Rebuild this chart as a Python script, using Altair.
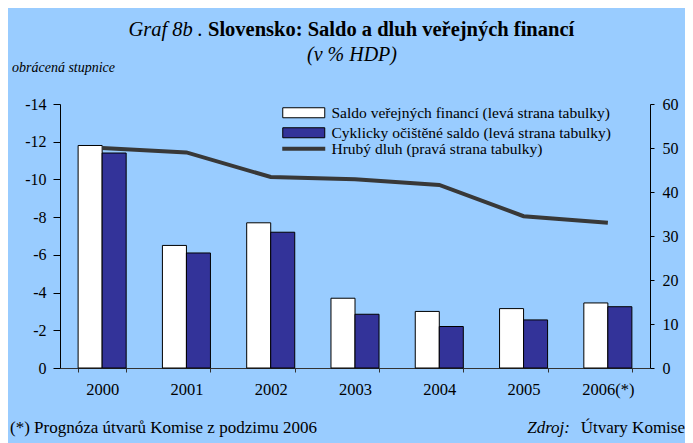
import altair as alt
import pandas as pd

years = ["2000", "2001", "2002", "2003", "2004", "2005", "2006(*)"]
saldo = [-11.8, -6.5, -7.7, -3.7, -3.0, -3.15, -3.45]
cyklicke = [-11.4, -6.1, -7.2, -2.85, -2.2, -2.55, -3.25]
dluh = [50.0, 49.0, 43.4, 42.9, 41.6, 34.5, 33.0]

s1 = "Saldo veřejných financí (levá strana tabulky)"
s2 = "Cyklicky očištěné saldo (levá strana tabulky)"
s3 = "Hrubý dluh (pravá strana tabulky)"

bar_df = pd.DataFrame({
    "rok": years * 2,
    "serie": [s1] * len(years) + [s2] * len(years),
    "hodnota": saldo + cyklicke,
})
line_df = pd.DataFrame({"rok": years, "serie": [s3] * len(years), "dluh": dluh})

FONT = "Liberation Serif"
W, H = 590, 264

xenc = alt.X("rok:N", sort=years, title=None,
             scale=alt.Scale(paddingInner=0.43, paddingOuter=0.215),
             axis=alt.Axis(labelAngle=0, labelFontSize=16.5, labelPadding=9,
                           tickBand="extent", tickSize=4, domainColor="#333333",
                           tickColor="#333333", labelColor="black"))

sym_rect = "M-4.2,-1 h8.4 v2 h-8.4 z"
sym_line = "M-4.3,0 h8.6"

bars = alt.Chart(bar_df).mark_bar(stroke="black", strokeWidth=1).encode(
    x=xenc,
    xOffset=alt.XOffset("serie:N", sort=[s1, s2], scale=alt.Scale(paddingInner=0, paddingOuter=0)),
    y=alt.Y("hodnota:Q", title=None,
            scale=alt.Scale(domain=[-14, 0], reverse=True, nice=False),
            axis=alt.Axis(orient="left", values=list(range(-14, 1, 2)), grid=False,
                          labelExpr="datum.value == 0 ? '0' : '-' + abs(datum.value)",
                          labelFontSize=16, tickSize=7, domainColor="black",
                          tickColor="black", labelColor="black", labelPadding=7)),
    color=alt.Color("serie:N", sort=[s1, s2],
                    scale=alt.Scale(domain=[s1, s2], range=["white", "#333399"]),
                    legend=alt.Legend(title=None, orient="none", legendX=236, legendY=1,
                                      symbolType=sym_rect, symbolSize=100,
                                      symbolStrokeColor="black", symbolStrokeWidth=1,
                                      labelFontSize=15.5, labelFont=FONT, padding=0,
                                      rowPadding=3, labelOffset=20, labelLimit=400)),
)

line = alt.Chart(line_df).mark_line(strokeWidth=4).encode(
    x=alt.X("rok:N", sort=years),
    y=alt.Y("dluh:Q", title=None,
            scale=alt.Scale(domain=[0, 60], nice=False),
            axis=alt.Axis(orient="right", values=list(range(0, 61, 10)), grid=False,
                          labelFontSize=16, tickSize=4, domainColor="black",
                          tickColor="black", labelColor="black", labelPadding=8)),
    stroke=alt.Stroke("serie:N", scale=alt.Scale(domain=[s3], range=["#383838"]),
                      legend=alt.Legend(title=None, orient="none", legendX=236, legendY=37,
                                        symbolType=sym_line, symbolSize=100,
                                        symbolStrokeWidth=4, labelFontSize=15.5,
                                        labelFont=FONT, padding=0, labelOffset=20,
                                        labelLimit=400)),
)

one = pd.DataFrame({"a": [0]})


def txt(text, x, y, size, style="normal", weight="normal", align="left"):
    return alt.Chart(one).mark_text(
        font=FONT, fontSize=size, fontStyle=style, fontWeight=weight,
        align=align, baseline="alphabetic", color="black",
    ).encode(x=alt.value(x), y=alt.value(y), text=alt.value(text))


texts = [
    txt("Graf 8b .", 143, -68, 20.5, style="italic", align="right"),
    txt("Slovensko: Saldo a dluh veřejných financí", 148, -68, 20.5, weight="bold"),
    txt("(v % HDP)", 292, -43, 20, style="italic", align="center"),
    txt("obrácená stupnice", -48, -32, 14, style="italic"),
    txt("(*) Prognóza útvarů Komise z podzimu 2006", -50, 329, 17),
    txt("Zdroj:", 510, 329, 17, style="italic", align="right"),
    txt("Útvary Komise", 625, 329, 17, align="right"),
]

chart = alt.layer(bars, line, *texts).resolve_scale(
    y="independent", color="independent", stroke="independent"
).properties(
    width=W, height=H,
    autosize=alt.AutoSizeParams(type="none"),
    padding={"left": 52, "top": 96, "right": 35, "bottom": 75},
    background="#99CCFF",
).configure_view(stroke=None).configure_axis(labelFont=FONT)

chart.save("out.html", embed_options={"renderer": "svg", "actions": False})
